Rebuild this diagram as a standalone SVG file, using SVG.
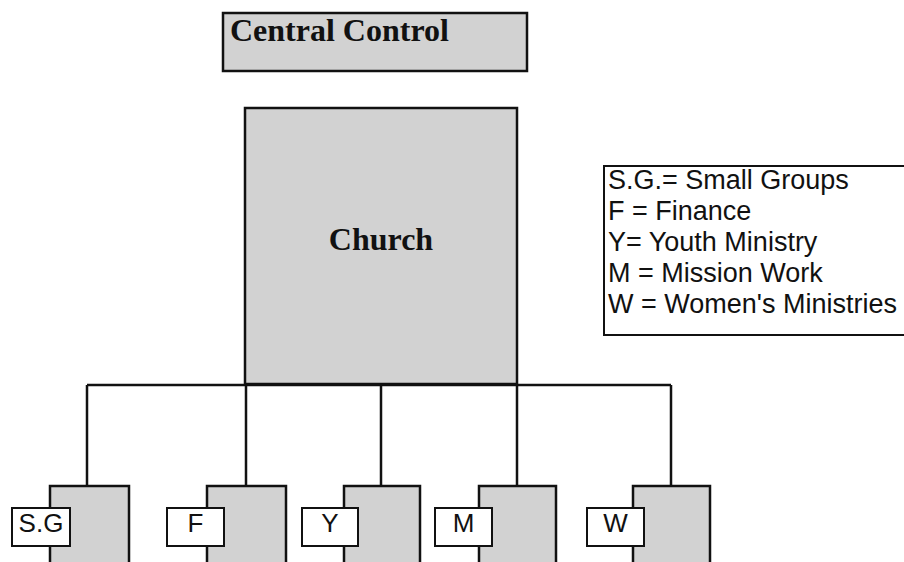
<svg xmlns="http://www.w3.org/2000/svg" width="904" height="562" viewBox="0 0 904 562">
<style>
.gray{fill:#d2d2d2;stroke:#111;stroke-width:2.5}
.lbl{fill:#fff;stroke:#111;stroke-width:2}
.conn{fill:none;stroke:#111;stroke-width:2.5}
.serif{font-family:"Liberation Serif","Times New Roman",serif;font-weight:bold;fill:#111}
.sans{font-family:"Liberation Sans",Arial,sans-serif;fill:#111}
</style>
<rect width="904" height="562" fill="#fff"/>
<g id="connectors">
<path class="conn" d="M87,385 H671 M87,385 V486 M246,385 V486 M381,383 V486 M517,385 V486 M671,385 V486"/>
</g>
<g id="central-control">
<rect class="gray" x="223" y="13" width="304" height="58"/>
<text class="serif" x="230" y="41" font-size="32">Central Control</text>
</g>
<g id="church">
<rect class="gray" x="245" y="108" width="272" height="276"/>
<text class="serif" x="381" y="250" font-size="32" text-anchor="middle">Church</text>
</g>
<g id="legend">
<rect x="604" y="166" width="310" height="169" fill="#fff" stroke="#111" stroke-width="2"/>
<text class="sans" font-size="27">
<tspan x="608" y="189">S.G.= Small Groups</tspan>
<tspan x="608" y="220">F = Finance</tspan>
<tspan x="608" y="251">Y= Youth Ministry</tspan>
<tspan x="608" y="282">M = Mission Work</tspan>
<tspan x="608" y="313">W = Women's Ministries</tspan>
</text>
</g>
<g id="node-sg">
<rect class="gray" x="50" y="486" width="79" height="80"/>
<rect class="lbl" x="12" y="508" width="58" height="38"/>
<text class="sans" x="41" y="532" font-size="26" text-anchor="middle">S.G</text>
</g>
<g id="node-f">
<rect class="gray" x="207" y="486" width="79" height="80"/>
<rect class="lbl" x="167" y="508" width="57" height="38"/>
<text class="sans" x="195.5" y="532" font-size="26" text-anchor="middle">F</text>
</g>
<g id="node-y">
<rect class="gray" x="344" y="486" width="76" height="80"/>
<rect class="lbl" x="302" y="508" width="56" height="38"/>
<text class="sans" x="330" y="532" font-size="26" text-anchor="middle">Y</text>
</g>
<g id="node-m">
<rect class="gray" x="479" y="486" width="77" height="80"/>
<rect class="lbl" x="435" y="508" width="57" height="38"/>
<text class="sans" x="463.5" y="532" font-size="26" text-anchor="middle">M</text>
</g>
<g id="node-w">
<rect class="gray" x="633" y="486" width="77" height="80"/>
<rect class="lbl" x="587" y="508" width="57" height="38"/>
<text class="sans" x="615.5" y="532" font-size="26" text-anchor="middle">W</text>
</g>
</svg>
